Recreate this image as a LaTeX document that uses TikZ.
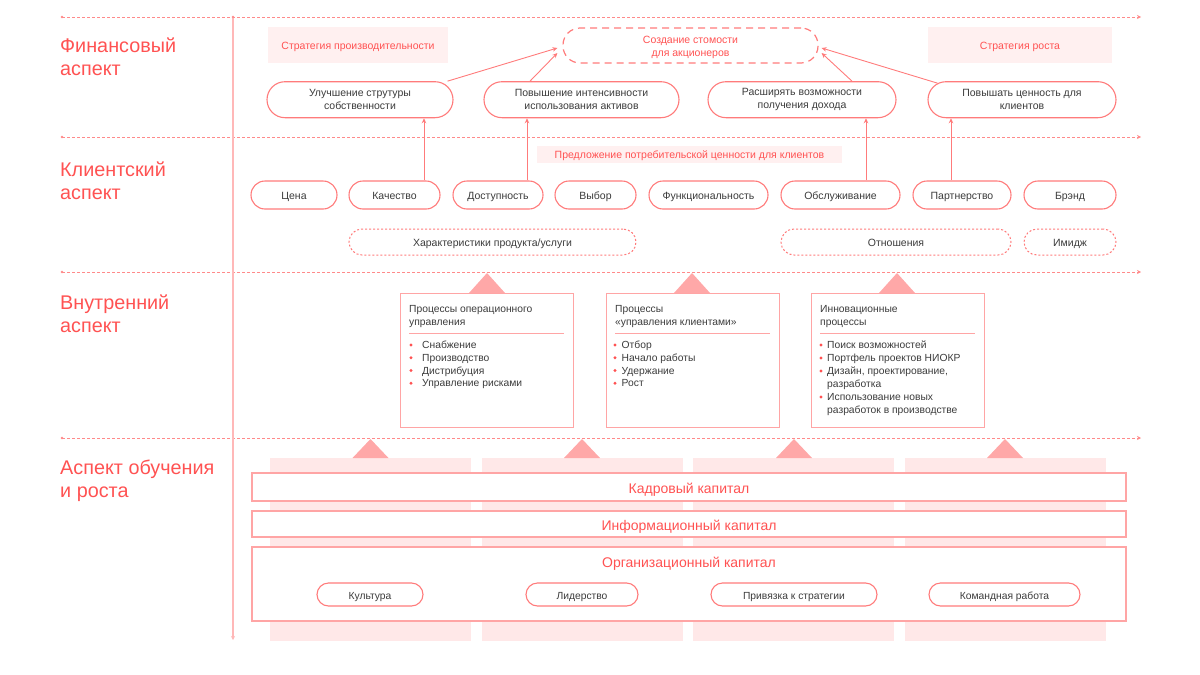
\documentclass[tikz,border=0pt]{standalone}
\usepackage{fontspec}
\setmainfont{Liberation Sans}
\usetikzlibrary{arrows.meta,calc}
\definecolor{redtxt}{HTML}{FF5252}
\definecolor{pinkline}{HTML}{FF7B7B}
\definecolor{boxline}{HTML}{FFA5A5}
\definecolor{pinkfill}{HTML}{FFF0F0}
\definecolor{colfill}{HTML}{FFE8E8}
\definecolor{tricol}{HTML}{FFA8A8}
\definecolor{dotline}{HTML}{FF8A8A}
\definecolor{vline}{HTML}{FFB8B8}
\definecolor{graytxt}{HTML}{3C3C3C}
\newcommand\myfs[2]{\fontsize{#1}{#2}\selectfont}
\begin{document}
\begin{tikzpicture}[x=1pt,y=-1pt,
  sect/.style={anchor=base west,inner sep=0,text=redtxt,font=\myfs{19.8}{23}},
  rbox/.style={draw=pinkline,line width=1.1pt,fill=white,rounded corners=18pt,minimum height=36pt,inner sep=0,align=center,font=\myfs{10.5}{13},text=graytxt},
  pill/.style={draw=pinkline,line width=1.1pt,fill=white,rounded corners=14pt,minimum height=28pt,inner sep=0,font=\myfs{10.5}{13},text=graytxt,text height=8.4pt,text depth=0pt},
  dpill/.style={draw=pinkline,line width=1pt,dash pattern=on 2pt off 2pt,fill=white,rounded corners=13pt,minimum height=26pt,inner sep=0,font=\myfs{10.5}{13},text=graytxt,text height=8.4pt,text depth=0pt},
  opill/.style={draw=pinkline,line width=1.1pt,fill=white,rounded corners=11.5pt,minimum height=23pt,inner sep=0,font=\myfs{10.3}{13},text=graytxt,text height=10.3pt,text depth=0pt},
  strat/.style={fill=pinkfill,inner sep=0,minimum height=36pt,text=redtxt,font=\myfs{10.5}{13},text height=9pt,text depth=0pt},
  arr/.style={draw=pinkline,line width=0.9pt,-{Stealth[length=5pt,width=4.5pt]}},
  varr/.style={draw=pinkline,line width=1pt,-{Stealth[length=5pt,width=4.5pt]}},
  hline/.style={draw=dotline,line width=0.9pt,dash pattern=on 2.5pt off 2.5pt,-{Stealth[length=4pt,width=4pt]}},
  pbox/.style={draw=boxline,line width=1.2pt,fill=white,inner sep=0,anchor=north west,minimum width=173pt,minimum height=134pt},
  col/.style={fill=colfill,inner sep=0,anchor=north west,minimum width=201pt,minimum height=183pt},
  capbox/.style={draw=boxline,line width=1.3pt,fill=white,inner sep=0,minimum width=874pt,text=redtxt,font=\myfs{14}{16},text height=12.6pt,text depth=0pt},
  hd/.style={anchor=base west,inner sep=0,font=\myfs{10.3}{13},text=graytxt},
  itm/.style={anchor=base west,inner sep=0,font=\myfs{10.3}{13},text=graytxt},
  bul/.style={fill=redtxt}
]
\useasboundingbox (0,0) rectangle (1200,675);

% axes
\foreach \yy [count=\i] in {17,137,272,438}{
  \coordinate (hs\i) at (62,\yy);
  \coordinate (he\i) at (1141,\yy);
  \fill[dotline] (hs\i) circle (1.4);
  \draw[hline] (hs\i) -- (he\i);
}
\coordinate (vs) at (233,17);
\coordinate (ve) at (233,640);
\draw[draw=vline,line width=1.2pt,-{Stealth[length=4pt,width=4pt]}] (vs) -- (ve);
\fill[dotline] (vs) circle (1.4);

% section labels
\node[sect] (f1) at (60,52) {Финансовый};
\node[sect] (f2) at (60,75) {аспект};
\node[sect] (k1) at (60,176) {Клиентский};
\node[sect] (k2) at (60,199) {аспект};
\node[sect] (v1) at (60,309) {Внутренний};
\node[sect] (v2) at (60,332) {аспект};
\node[sect] (o1) at (60,474) {Аспект обучения};
\node[sect] (o2) at (60,497) {и роста};

% financial
\node[strat,minimum width=180pt] (sp) at (358,45) {Стратегия производительности};
\node[strat,minimum width=184pt] (sr) at (1020,45) {Стратегия роста};
\node[draw=pinkline,line width=1.2pt,dash pattern=on 7pt off 5pt,rounded corners=17pt,minimum width=255pt,minimum height=35pt,inner sep=0] (cr) at (690.5,45.5) {};
\node[inner sep=0,align=center,text=redtxt,font=\myfs{10.5}{13}] (crt) at (690.5,47) {Создание стомости\\для акционеров};

\node[rbox,minimum width=186pt] (b1) at (360,99.7) {Улучшение струтуры\\собственности};
\node[rbox,minimum width=195pt] (b2) at (581.5,99.7) {Повышение интенсивности\\использования активов};
\node[rbox,minimum width=188pt] (b3) at (802,99.7) {Расширять возможности\\получения дохода};
\node[rbox,minimum width=188pt] (b4) at (1022,99.7) {Повышать ценность для\\клиентов};

\draw[arr] ([xshift=-6pt]b1.north east) -- ([xshift=-5pt,yshift=-2.5pt]cr.west);
\draw[arr] ([xshift=-51.5pt]b2.north) -- ([xshift=-5pt,yshift=-7.5pt]cr.west);
\draw[arr] ([xshift=50pt]b3.north) -- ([xshift=3pt,yshift=-7.5pt]cr.east);
\draw[arr] ([xshift=10pt,yshift=-2pt]b4.north west) -- ([xshift=3pt,yshift=-2.5pt]cr.east);

% client
\node[fill=pinkfill,inner sep=0,minimum width=305pt,minimum height=17pt,text=redtxt,font=\myfs{10.5}{13},text height=8.4pt,text depth=0pt] (pv) at (689.5,154.5) {Предложение потребительской ценности для клиентов};

\node[pill,minimum width=86pt] (c1) at (294,195) {Цена};
\node[pill,minimum width=91pt] (c2) at (394.5,195) {Качество};
\node[pill,minimum width=90pt] (c3) at (498,195) {Доступность};
\node[pill,minimum width=81pt] (c4) at (595.5,195) {Выбор};
\node[pill,minimum width=119pt] (c5) at (708.5,195) {Функциональность};
\node[pill,minimum width=119pt] (c6) at (840.5,195) {Обслуживание};
\node[pill,minimum width=98pt] (c7) at (962,195) {Партнерство};
\node[pill,minimum width=92pt] (c8) at (1070,195) {Брэнд};

\node[dpill,minimum width=287pt] (d1) at (492.5,242) {Характеристики продукта/услуги};
\node[dpill,minimum width=230pt] (d2) at (896,242) {Отношения};
\node[dpill,minimum width=92pt] (d3) at (1070,242) {Имидж};

\coordinate (x1) at (424,0);
\coordinate (x2) at (527,0);
\coordinate (x3) at (866,0);
\coordinate (x4) at (951,0);
\draw[varr] (c2.north -| x1) -- (b1.south -| x1);
\draw[varr] (c3.north -| x2) -- (b2.south -| x2);
\draw[varr] (c6.north -| x3) -- (b3.south -| x3);
\draw[varr] (c7.north -| x4) -- (b4.south -| x4);

% internal
\foreach \cx in {487,692,897}{
  \fill[tricol] (\cx-18,293) -- (\cx,273) -- (\cx+18,293) -- cycle;
}
\node[pbox] (p1) at (400,293) {};
\node[pbox] (p2) at (606,293) {};
\node[pbox] (p3) at (811,293) {};
\foreach \xa/\xb in {409/564,615/770,820/975}{
  \draw[boxline,line width=1pt] (\xa,333.5) -- (\xb,333.5);
}
\node[hd] (h11) at (409,312) {Процессы операционного};
\node[hd] (h12) at (409,325.5) {управления};
\node[hd] (h21) at (615,312) {Процессы};
\node[hd] (h22) at (615,325.5) {«управления клиентами»};
\node[hd] (h31) at (820,312) {Инновационные};
\node[hd] (h32) at (820,325.5) {процессы};

\foreach \t [count=\i] in {Снабжение,Производство,Дистрибуция,Управление рисками}{
  \pgfmathsetmacro\yy{345+12.75*(\i-1)}
  \fill[bul] (411,\yy) circle (1.7);
  \node[itm] (pa\i) at (422,\yy+3.7) {\t};
}
\foreach \t [count=\i] in {Отбор,Начало работы,Удержание,Рост}{
  \pgfmathsetmacro\yy{345+12.75*(\i-1)}
  \fill[bul] (615,\yy) circle (1.7);
  \node[itm] (pb\i) at (621.5,\yy+3.7) {\t};
}
\foreach \yy in {345,358,371,397}{
  \fill[bul] (821,\yy) circle (1.7);
}
\node[itm] (pc1) at (827,348.7) {Поиск возможностей};
\node[itm] (pc2) at (827,361.7) {Портфель проектов НИОКР};
\node[itm] (pc3) at (827,374.5) {Дизайн, проектирование,};
\node[itm] (pc4) at (827,387.2) {разработка};
\node[itm] (pc5) at (827,400.5) {Использование новых};
\node[itm] (pc6) at (827,413.2) {разработок в производстве};

% learning & growth
\node[col] (g1) at (270,458) {};
\node[col] (g2) at (482,458) {};
\node[col] (g3) at (693,458) {};
\node[col] (g4) at (905,458) {};
\foreach \cx in {370.5,582,794,1005}{
  \fill[tricol] (\cx-18,458) -- (\cx,439) -- (\cx+18,458) -- cycle;
}
\node[capbox,minimum height=28pt] (kc) at (689,487) {Кадровый капитал};
\node[capbox,minimum height=26pt] (ic) at (689,524) {Информационный капитал};
\node[capbox,minimum height=74pt] (oc) at (689,584) {};
\node[inner sep=0,text=redtxt,font=\myfs{14}{16},text height=11.5pt,text depth=0pt] (ocl) at (689,562) {Организационный капитал};

\node[opill,minimum width=106pt] (q1) at (370,594.5) {Культура};
\node[opill,minimum width=112pt] (q2) at (582,594.5) {Лидерство};
\node[opill,minimum width=166pt] (q3) at (794,594.5) {Привязка к стратегии};
\node[opill,minimum width=151pt] (q4) at (1004.5,594.5) {Командная работа};
\end{tikzpicture}
\end{document}
